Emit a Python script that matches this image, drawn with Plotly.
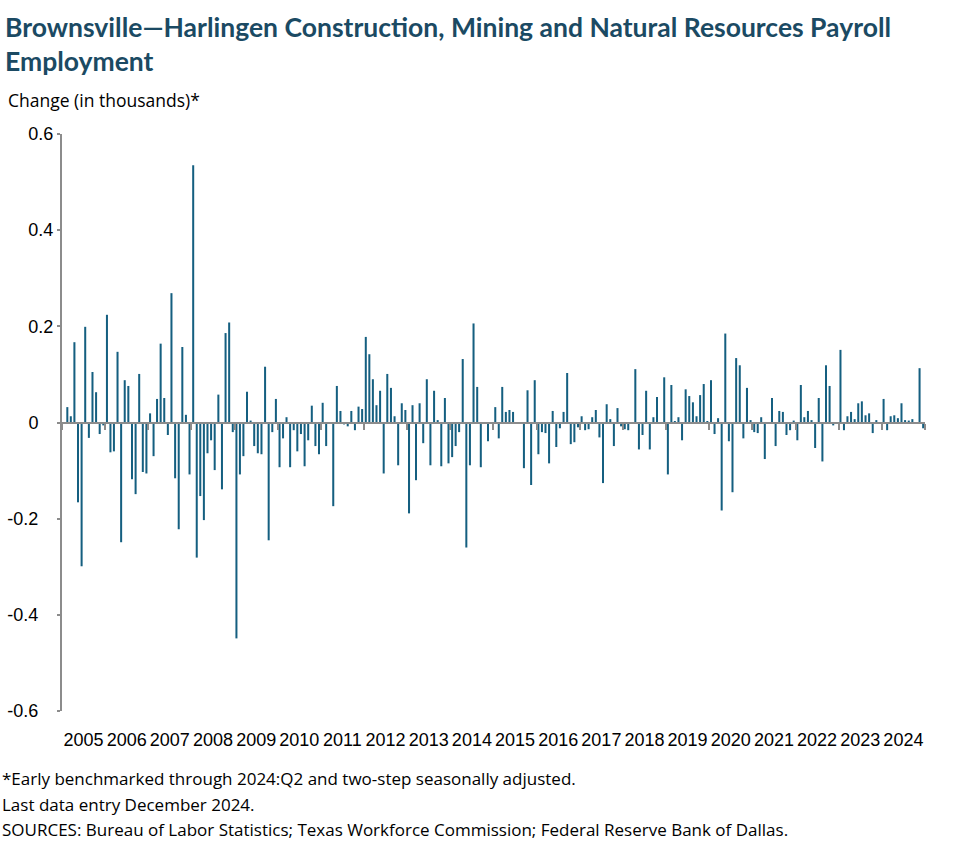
import pandas as pd
import plotly.graph_objects as go

# Monthly change (thousands); Jan 2005 .. Dec 2024
values = [
    None,
    0.032, 0.013, 0.167, -0.166, -0.299, 0.199, -0.032, 0.105, 0.063, -0.024, -0.006, 0.224,
    -0.062, -0.06, 0.147, -0.249, 0.088, 0.076, -0.118, -0.149, 0.101, -0.103, -0.106, 0.019,
    -0.07, 0.049, 0.164, 0.051, -0.026, 0.269, -0.116, -0.222, 0.157, 0.016, -0.108, 0.535,
    -0.281, -0.153, -0.203, -0.064, -0.037, -0.099, 0.058, -0.139, 0.186, 0.208, -0.02, -0.449,
    -0.108, -0.07, 0.064, 0.004, -0.049, -0.064, -0.066, 0.116, -0.245, -0.02, 0.049, -0.093,
    -0.033, 0.011, -0.093, -0.016, -0.06, -0.024, -0.091, -0.037, 0.035, -0.049, -0.066, 0.041,
    -0.049, 0.0, -0.174, 0.076, 0.024, -0.004, -0.008, 0.024, -0.016, 0.033, 0.028, 0.178,
    0.142, 0.09, 0.036, 0.066, -0.106, 0.101, 0.072, 0.013, -0.089, 0.04, 0.026, -0.189,
    0.036, -0.12, 0.04, -0.043, 0.09, -0.089, 0.066, 0.005, -0.091, 0.051, -0.085, -0.072,
    -0.049, -0.02, 0.132, -0.26, -0.089, 0.206, 0.074, -0.093, 0.0, -0.039, 0.0, 0.032,
    -0.033, 0.074, 0.022, 0.026, 0.022, 0.0, 0.0, -0.095, 0.067, -0.13, 0.088, -0.066,
    -0.02, -0.022, -0.085, 0.024, -0.051, -0.012, 0.022, 0.103, -0.045, -0.041, -0.01, 0.013,
    -0.016, -0.014, 0.011, 0.026, -0.031, -0.126, 0.038, 0.007, -0.049, 0.03, -0.008, -0.014,
    -0.016, 0.0, 0.111, -0.056, -0.026, 0.066, -0.056, 0.011, 0.053, 0.0, 0.094, -0.108,
    0.078, 0.003, 0.011, -0.037, 0.069, 0.055, 0.042, 0.013, 0.057, 0.08, 0.003, 0.088,
    -0.024, 0.009, -0.183, 0.185, -0.039, -0.145, 0.134, 0.119, -0.033, 0.072, 0.005, -0.02,
    -0.022, 0.011, -0.076, 0.0, 0.051, -0.049, 0.024, 0.022, -0.026, -0.016, 0.004, -0.037,
    0.078, 0.011, 0.024, 0.005, -0.053, 0.051, -0.081, 0.119, 0.076, -0.006, 0.0, 0.151,
    -0.016, 0.013, 0.022, 0.007, 0.04, 0.044, 0.015, 0.019, -0.022, 0.005, 0.0, 0.049,
    -0.016, 0.013, 0.015, 0.009, 0.04, 0.005, 0.004, 0.007, 0.0, 0.113, -0.012,
]
months = pd.date_range("2005-01-01", periods=len(values), freq="MS")

NB = "\u00a0"
y_ticks = [-0.6, -0.4, -0.2, 0, 0.2, 0.4, 0.6]
y_tick_labels = ["-0.6" + NB * 3, "-0.4" + NB * 3, "-0.2" + NB * 3, "0" + NB * 3, "0.2", "0.4", "0.6"]

title_lines = ["Brownsville\u2014Harlingen Construction, Mining and Natural Resources Payroll", "Employment"]
y_title = "Change (in thousands)*"
notes = [
    "*Early benchmarked through 2024:Q2 and two-step seasonally adjusted.",
    "Last data entry December 2024.",
    "SOURCES: Bureau of Labor Statistics; Texas Workforce Commission; Federal Reserve Bank of Dallas.",
]

W, H = 977, 864
L, R, T, B = 62, 52, 134, 153
pw, ph = W - L - R, H - T - B

def px(x):
    return (x - L) / pw

def py(y):
    return 1 - (y - T) / ph

BAR = "#155f80"
GRAY = "#8c8c8c"
TITLE = "#1b4a63"

fig = go.Figure()
fig.add_trace(go.Bar(x=months, y=values, xperiod="M1", xperiodalignment="middle",
                     marker=dict(color=BAR, line=dict(width=0)), showlegend=False))
# helper trace so the zero-crossing axis (with year tick marks) is drawn
fig.add_trace(go.Scatter(x=[months[0], months[-1]], y=[0, 0], xaxis="x2", mode="lines",
                         line=dict(width=0), hoverinfo="skip", showlegend=False))

xr = ["2005-01-01", "2025-01-01"]
fig.update_layout(
    width=W, height=H,
    margin=dict(l=L, r=R, t=T, b=B, autoexpand=False),
    paper_bgcolor="white", plot_bgcolor="white",
    bargap=0.42,
    font=dict(family="Liberation Sans, Arial, sans-serif", color="black"),
    xaxis=dict(type="date", range=xr, dtick="M12", tick0="2005-01-01",
               tickformat="%Y", ticklabelmode="period", automargin=False,
               showgrid=False, zeroline=False, showline=False,
               ticks="outside", ticklen=12, tickcolor="rgba(0,0,0,0)",
               tickfont=dict(size=18, family="Liberation Sans, Arial, sans-serif")),
    xaxis2=dict(type="date", range=xr, overlaying="x", matches="x", anchor="free", position=0.5,
                dtick="M12", tick0="2005-01-01", showticklabels=False, automargin=False,
                showgrid=False, zeroline=False, showline=True, linecolor=GRAY, linewidth=2,
                ticks="outside", ticklen=6, tickwidth=2, tickcolor=GRAY),
    yaxis=dict(range=[-0.6, 0.6], tickmode="array", tickvals=y_ticks, ticktext=y_tick_labels,
               automargin=False,
               showgrid=False, zeroline=False, showline=True, linecolor=GRAY, linewidth=2,
               ticks="outside", ticklen=3, tickwidth=2, tickcolor=GRAY,
               tickfont=dict(size=18, family="Liberation Sans, Arial, sans-serif")),
)

ann = []
for i, line in enumerate(title_lines):
    ann.append(dict(text=f"<b>{line}</b>", xref="paper", yref="paper", x=px(3), y=py(27 + 34 * i),
                    xanchor="left", yanchor="middle", showarrow=False,
                    font=dict(family="Lato, sans-serif", size=26.5, color=TITLE)))
ann.append(dict(text=y_title, xref="paper", yref="paper", x=px(6), y=py(100),
                xanchor="left", yanchor="middle", showarrow=False,
                font=dict(family="Open Sans, sans-serif", size=17.5, color="black")))
for i, line in enumerate(notes):
    ann.append(dict(text=line, xref="paper", yref="paper", x=px(0), y=py(779 + 25 * i),
                    xanchor="left", yanchor="middle", showarrow=False,
                    font=dict(family="Open Sans, sans-serif", size=17, color="black")))
fig.update_layout(annotations=ann)

# remove the default 8px page margin so the figure sits at the window's top-left corner
fig.write_html("out.html", config={"displayModeBar": False},
               post_script="document.body.style.margin='0px';")
